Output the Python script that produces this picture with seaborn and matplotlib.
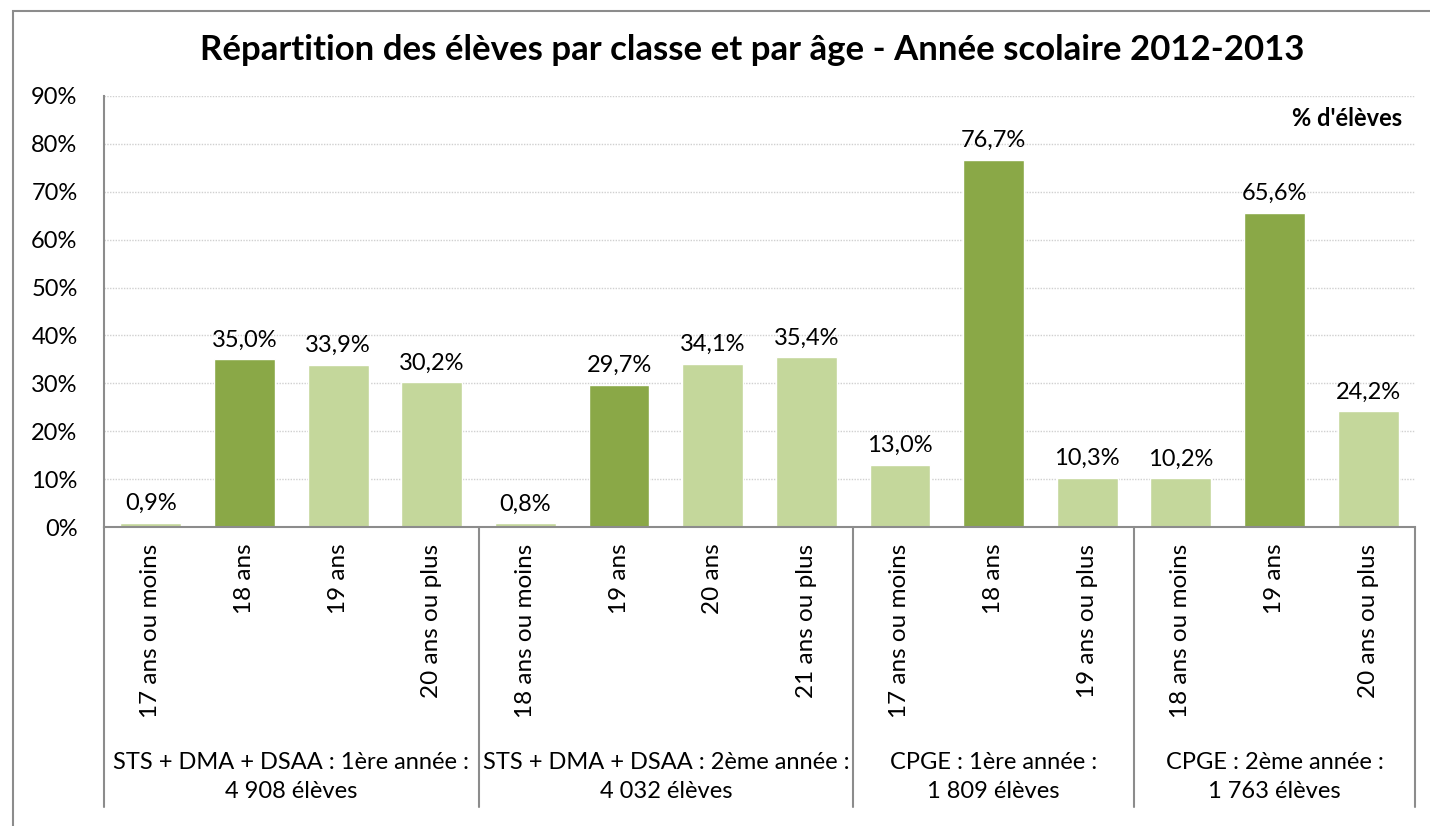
import matplotlib
matplotlib.use("Agg")
import matplotlib.pyplot as plt
import matplotlib.transforms as mtransforms
from matplotlib.patches import Rectangle
import seaborn as sns

# data
age_labels = ["17 ans ou moins", "18 ans", "19 ans", "20 ans ou plus",
              "18 ans ou moins", "19 ans", "20 ans", "21 ans ou plus",
              "17 ans ou moins", "18 ans", "19 ans ou plus",
              "18 ans ou moins", "19 ans", "20 ans ou plus"]
pct = [0.9, 35.0, 33.9, 30.2,
       0.8, 29.7, 34.1, 35.4,
       13.0, 76.7, 10.3,
       10.2, 65.6, 24.2]
modal_age = [False, True, False, False,
             False, True, False, False,
             False, True, False,
             False, True, False]
group_labels = ["STS + DMA + DSAA : 1ère année :\n4 908 élèves",
                "STS + DMA + DSAA : 2ème année :\n4 032 élèves",
                "CPGE : 1ère année :\n1 809 élèves",
                "CPGE : 2ème année :\n1 763 élèves"]
group_sizes = [4, 4, 3, 3]

DARK = "#8AA847"
LIGHT = "#C4D79B"

sns.set_theme(style="white")
plt.rcParams["font.family"] = ["Lato", "DejaVu Sans"]
plt.rcParams["text.color"] = "black"
plt.rcParams["xtick.color"] = "black"
plt.rcParams["ytick.color"] = "black"

fig = plt.figure(figsize=(14.3, 8.26), dpi=100)
W, H = 1430, 826
ax = fig.add_axes([104 / W, 1 - 527 / H, (1415 - 104) / W, (527 - 96) / H])

pos = list(range(len(pct)))
colors = [DARK if m else LIGHT for m in modal_age]
sns.barplot(x=pos, y=pct, hue=pos, palette=colors, legend=False,
            width=0.65, ax=ax, saturation=1)

ax.set_ylim(0, 90)
ax.set_xlim(-0.5, len(pct) - 0.5)
ax.set_yticks(range(0, 91, 10))
ax.set_yticklabels([f"{v}%" for v in range(0, 91, 10)], fontsize=17)
ax.yaxis.grid(True, color="#D0D0D0", linestyle=(0, (1, 1)), linewidth=1)
ax.set_axisbelow(True)
ax.tick_params(axis="y", length=0, pad=19)
ax.tick_params(axis="x", length=0, pad=12)
ax.set_xticks(pos)
ax.set_xticklabels(age_labels, rotation=90, fontsize=17.5, va="top")
ax.set_xlabel("")
ax.set_ylabel("")

for side in ["top", "right"]:
    ax.spines[side].set_visible(False)
for side in ["left", "bottom"]:
    ax.spines[side].set_color("#8C8C8C")
    ax.spines[side].set_linewidth(1.5)

# value labels
for p, v in zip(pos, pct):
    ax.text(p, v + 1.8, f"{v:.1f}%".replace(".", ","), ha="center", va="bottom",
            fontsize=17)

# group separators and labels under the axis
trans = mtransforms.blended_transform_factory(ax.transData, ax.transAxes)
line_bottom = -(807 - 527) / (527 - 96)
edges = [-0.5]
for s in group_sizes:
    edges.append(edges[-1] + s)
for e in edges:
    ax.plot([e, e], [0, line_bottom], transform=trans, color="#8C8C8C",
            linewidth=1.5, clip_on=False)
label_y = -(777 - 527) / (527 - 96)
for i, lab in enumerate(group_labels):
    cx = (edges[i] + edges[i + 1]) / 2
    ax.text(cx, label_y, lab, transform=trans, ha="center", va="center",
            fontsize=17, linespacing=1.5)

ax.text(1402 / W, 1 - 119 / H, "% d'élèves", transform=fig.transFigure,
        ha="right", va="center", fontsize=17, fontweight="bold")

fig.text(752 / W, 1 - 50 / H,
         "Répartition des élèves par classe et par âge - Année scolaire 2012-2013",
         ha="center", va="center", fontsize=25, fontweight="bold")

# outer chart border
fig.patches.append(Rectangle((13 / W, -0.1), 1.2, 1 - 11 / H + 0.1,
                             transform=fig.transFigure, fill=False,
                             edgecolor="#8C8C8C", linewidth=1.5))

fig.savefig("out.png", dpi=100)
